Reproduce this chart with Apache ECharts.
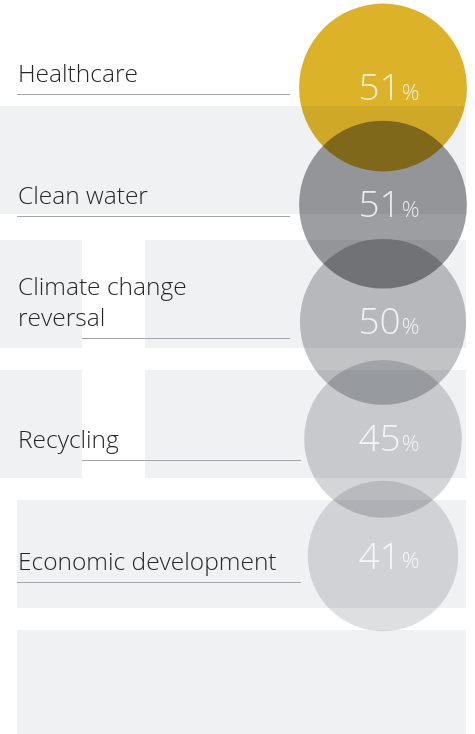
<!DOCTYPE html>
<html>
<head>
<meta charset="utf-8">
<style>
  html, body { margin: 0; padding: 0; background: #ffffff; }
  #chart { width: 475px; height: 734px; }
</style>
<script src="https://cdn.jsdelivr.net/npm/echarts@6/dist/echarts.min.js"></script>
</head>
<body>
<div id="chart"></div>
<script>
// ---- data ----
const categories = ['Healthcare', 'Clean water', 'Climate change\nreversal', 'Recycling', 'Economic development'];
const values = [51, 51, 50, 45, 41];
const circleColors = ['#dcb229', '#9c9ea1', '#c2c3c5', '#d4d5d7', '#dedfe1'];

// ---- layout / style constants ----
const underlineFrom = [17, 17, 82, 82, 17];
const underlineTo = [290, 290, 290, 301, 301];
const sizeScale = 23.5; // diameter = sizeScale * sqrt(value) -> area proportional to value
const bg = '#f0f1f3';
const FONT = '"Open Sans", "Liberation Sans", sans-serif';

const chart = echarts.init(document.getElementById('chart'), null, { renderer: 'canvas' });

const rects = [
  [0, 106, 466, 108],
  [0, 240, 82, 108], [145, 240, 321, 108],
  [0, 370, 82, 108], [145, 370, 321, 108],
  [17, 500, 449, 108],
  [17, 630, 449, 104]
];

const option = {
  backgroundColor: '#ffffff',
  animation: false,
  graphic: rects.map(r => ({
    type: 'rect', z: -10, silent: true,
    shape: { x: r[0], y: r[1], width: r[2], height: r[3] },
    style: { fill: bg }
  })),
  grid: [
    { left: 300, right: 9, top: 87.5, bottom: 178 },
    { left: 0, right: 0, top: 94, bottom: 152 }
  ],
  xAxis: [
    { gridIndex: 0, type: 'value', min: 0, max: 1, show: false },
    { gridIndex: 1, type: 'value', min: 0, max: 475, show: false }
  ],
  yAxis: [
    { gridIndex: 0, type: 'category', data: categories, inverse: true, boundaryGap: false, show: false },
    { gridIndex: 1, type: 'category', data: categories, inverse: true, boundaryGap: false, show: false }
  ],
  series: [
    {
      type: 'scatter',
      xAxisIndex: 0, yAxisIndex: 0,
      blendMode: 'multiply',
      silent: true,
      z: 2,
      data: values.map((v, i) => ({
        value: [0.5, i, v],
        symbolSize: sizeScale * Math.sqrt(v),
        itemStyle: { color: circleColors[i], opacity: 1 }
      })),
      label: { show: false }
    },
    {
      type: 'scatter',
      xAxisIndex: 0, yAxisIndex: 0,
      silent: true,
      z: 5,
      symbolSize: 1,
      itemStyle: { color: 'rgba(0,0,0,0)' },
      data: values.map((v, i) => [0.5, i, v]),
      label: {
        show: true,
        position: 'inside',
        offset: [6, 2],
        formatter: p => '{a|' + p.value[2] + '}{b|%}',
        rich: {
          a: { fontFamily: FONT, fontWeight: 300, fontSize: 37, color: '#ffffff', lineHeight: 40 },
          b: { fontFamily: FONT, fontWeight: 300, fontSize: 22, color: '#ffffff', verticalAlign: 'bottom', lineHeight: 40, padding: [0, 0, 5, 1] }
        }
      }
    },
    {
      type: 'custom',
      xAxisIndex: 1, yAxisIndex: 1,
      silent: true,
      z: 3,
      data: categories.map((c, i) => [0, i]),
      renderItem: function (params, api) {
        const i = params.dataIndex;
        const y = Math.round(api.coord([0, api.value(1)])[1]) + 0.5;
        const x0 = api.coord([underlineFrom[i], 0])[0];
        const x1 = api.coord([underlineTo[i], 0])[0];
        return {
          type: 'group',
          children: [
            {
              type: 'line',
              shape: { x1: x0, y1: y, x2: x1, y2: y },
              style: { stroke: '#a4a6a9', lineWidth: 1 }
            },
            {
              type: 'text',
              x: 18, y: y - 4,
              style: {
                text: categories[i],
                fontFamily: FONT, fontWeight: 300, fontSize: 24.5,
                lineHeight: 31,
                fill: '#262626',
                align: 'left', verticalAlign: 'bottom'
              }
            }
          ]
        };
      }
    }
  ]
};
chart.setOption(option);
</script>
</body>
</html>
